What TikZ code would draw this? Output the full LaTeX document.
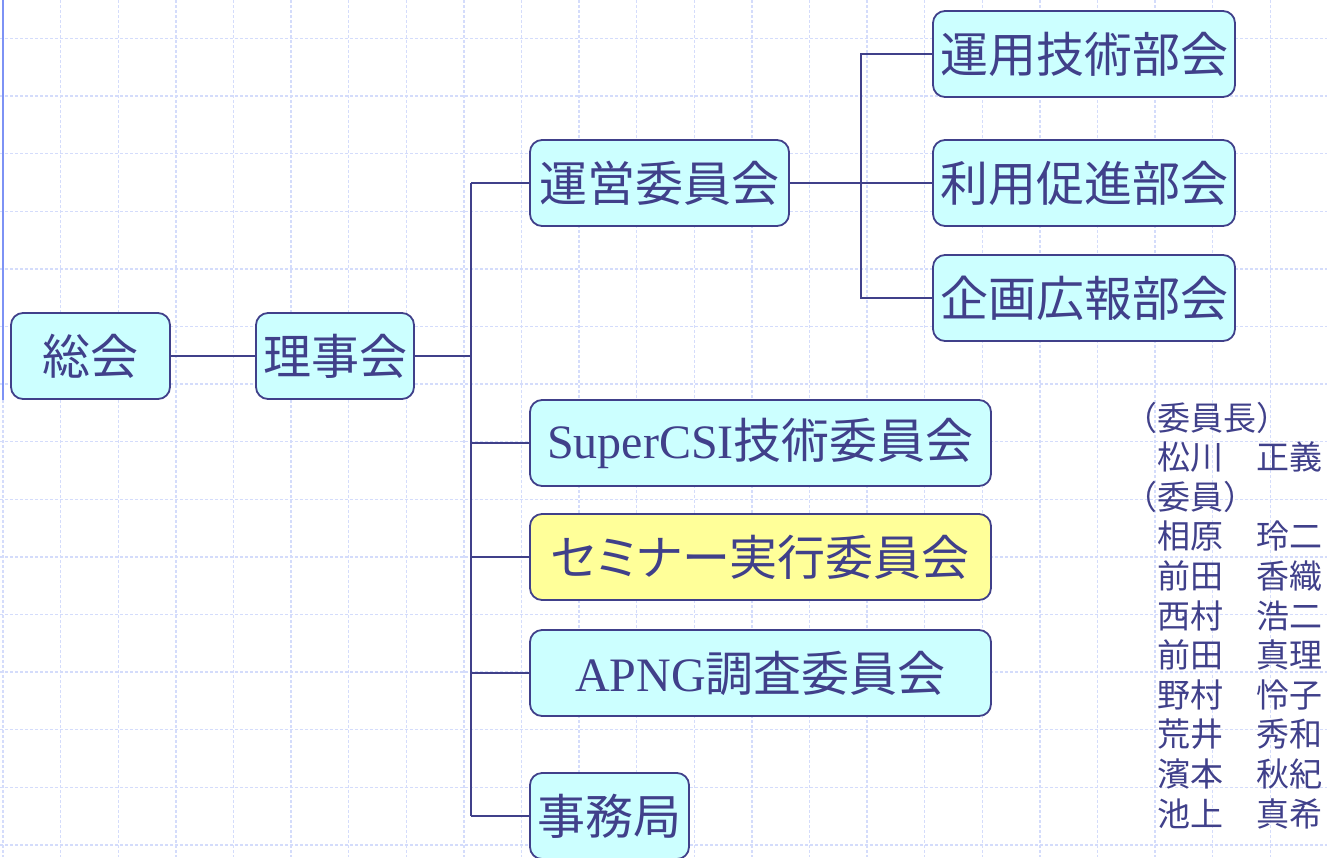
\documentclass[tikz,border=0pt]{standalone}
\usepackage{fontspec}
\setmainfont{Liberation Serif}
\newfontfamily\jpfont{Noto Sans CJK JP}
\usetikzlibrary{positioning}
\definecolor{inkblue}{RGB}{64,64,138}
\definecolor{boxcyan}{RGB}{204,255,255}
\definecolor{boxyellow}{RGB}{255,255,153}
\definecolor{gridblue}{RGB}{212,220,251}
\definecolor{edgeblue}{RGB}{125,146,245}
\newcommand{\lat}[1]{{\rmfamily #1}}

\begin{document}
\begin{tikzpicture}[x=1pt, y=-1pt,
    orgbox/.style={draw=inkblue, line width=1.8pt, fill=boxcyan, rounded corners=12pt,
      inner sep=0pt, outer sep=0pt, minimum height=86pt, text=inkblue,
      font=\jpfont\fontsize{48}{48}\selectfont},
    gridline/.style={gridblue, line width=1.4pt, dash pattern=on 3pt off 2pt},
    link/.style={inkblue, line width=2pt},
    member/.style={inner sep=0pt, anchor=base west, text=inkblue,
      font=\jpfont\fontsize{33}{33}\selectfont}]
    \useasboundingbox (0,0) rectangle (1327,857);
    % background grid
    \foreach \gx in {0,...,23}
        \draw[gridline] ({3+57.6*\gx},0) -- ({3+57.6*\gx},857);
    \foreach \gy in {0,...,14}
        \draw[gridline] (0,{38.4+57.6*\gy}) -- (1327,{38.4+57.6*\gy});
    \draw[edgeblue, line width=2.2pt] (3,0) -- (3,400);

    \node[orgbox, minimum width=159pt] (sokai) at (90.5,356) {総会};
    \node[orgbox, minimum width=158pt, right=86pt of sokai] (riji) {理事会};
    \node[orgbox, minimum width=259pt, above right=87pt and 116pt of riji] (unei) {運営委員会};
    \node[orgbox, minimum width=302pt, right=144pt of unei] (riyo) {利用促進部会};
    \node[orgbox, minimum width=302pt, above=43pt of riyo] (unyo) {運用技術部会};
    \node[orgbox, minimum width=302pt, below=29pt of riyo] (kikaku) {企画広報部会};
    \node[orgbox, minimum width=461pt, below=174pt of unei.south west, anchor=north west] (scsi) {\lat{SuperCSI}技術委員会};
    \node[orgbox, minimum width=461pt, fill=boxyellow, below=28pt of scsi] (semi) {\addfontfeatures{RawFeature=+palt}セミナー実行委員会};
    \node[orgbox, minimum width=461pt, below=30pt of semi] (apng) {\lat{APNG}調査委員会};
    \node[orgbox, minimum width=159pt, below=57pt of apng.south west, anchor=north west] (jimu) {事務局};

    \coordinate[right=57pt of riji.east] (bus);
    \coordinate[right=72pt of unei.east] (bus2);
    \draw[link] (sokai) -- (riji);
    \draw[link] (riji) -- (bus);
    \draw[link] (unei.west -| bus) -- (jimu.west -| bus);
    \foreach \n in {unei,scsi,semi,apng,jimu}
        \draw[link] (\n.west -| bus) -- (\n.west);
    \draw[link] (unei) -- (riyo);
    \draw[link] (unyo.west) -- (unyo.west -| bus2) -- (kikaku.west -| bus2) -- (kikaku.west);

    % members
    \foreach \t [count=\i from 0] in {（委員長）,　松川　正義,（委員）,　相原　玲二,
        　前田　香織,　西村　浩二,　前田　真理,　野村　怜子,　荒井　秀和,
        　濱本　秋紀,　池上　真希}
        \node[member] (m\i) at (1124,{430+39.6*\i}) {\t};
\end{tikzpicture}
\end{document}
